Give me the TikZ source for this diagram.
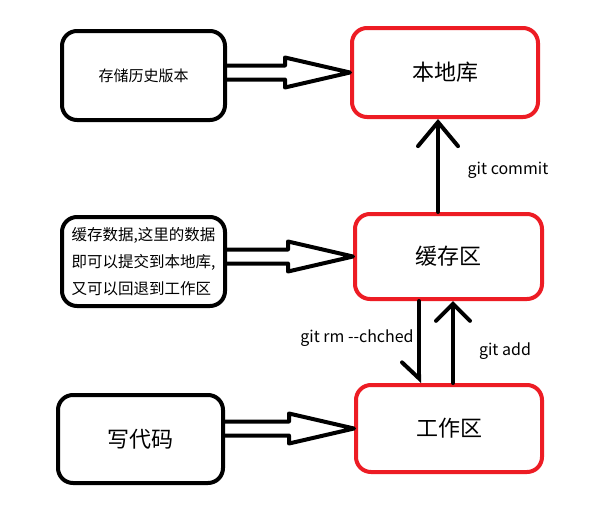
\documentclass[tikz,border=0pt]{standalone}
\usepackage{fontspec}
\newfontfamily\cjk{Noto Sans CJK SC}
\usetikzlibrary{calc, arrows.meta}

\definecolor{paintred}{HTML}{ED1C24}

\tikzset{
  notebox/.style={draw=black, line width=4pt, rounded corners=15pt, font=\cjk},
  areabox/.style={draw=paintred, line width=4pt, rounded corners=15pt,
    font=\cjk\fontsize{22}{26}\selectfont},
  hollow/.style={draw=black, line width=4pt, line join=round, line cap=round},
  gitarrow/.style={draw=black, line width=4pt, line cap=round},
  gitlabel/.style={font=\cjk\fontsize{16}{19}\selectfont}
}

\begin{document}
\begin{tikzpicture}[x=1pt, y=-1pt]
\useasboundingbox[fill=white] (0,0) rectangle (608,504);

% linke Spalte
\node[notebox, minimum width=163pt, minimum height=89pt,
  font=\cjk\fontsize{15}{18}\selectfont] (hist) at (143.5,75.5) {存储历史版本};
\node[notebox, minimum width=163pt, minimum height=89pt, align=left,
  font=\cjk\fontsize{15.5}{27}\selectfont] (cachenote) at (143.5,261.5)
  {缓存数据,这里的数据\\即可以提交到本地库,\\又可以回退到工作区};
\node[notebox, minimum width=165pt, minimum height=88pt,
  font=\cjk\fontsize{22}{26}\selectfont] (code) at (140.5,439) {写代码};

% rechte Spalte
\node[areabox, minimum width=186pt, minimum height=89pt] (local) at (445,72.5) {本地库};
\node[areabox, minimum width=187pt, minimum height=85pt] (cache) at (448.5,256.5) {缓存区};
\node[areabox, minimum width=186pt, minimum height=87pt] (work) at (449,428.5) {工作区};

% hohle Pfeile
\foreach \src/\dst in {hist/local, cachenote/cache, code/work} {
  \draw[hollow] ($(\src.east |- \dst.west)+(0,-7)$) -- ($(\dst.west)+(-65,-7)$)
    -- ++(0,-8) -- (\dst.west) -- ++(-65,15) -- ++(0,-8)
    -- ($(\src.east |- \dst.west)+(0,7)$);
}

% git Befehle
\coordinate (commitfoot) at (438,0);
\draw[gitarrow, -{Straight Barb[length=24pt, width=40pt, line cap=round]}]
  (cache.north -| commitfoot) -- (local.south -| commitfoot);
\node[gitlabel] (commitlabel) at (508,170) {git commit};

\coordinate (rmfoot) at (419,0);
\draw[gitarrow, -{Straight Barb[harpoon, swap, length=16pt, width=34pt, line cap=round]}]
  (cache.south -| rmfoot) -- (work.north -| rmfoot);
\node[gitlabel] (rmlabel) at (357,338) {git rm --chched};

\coordinate (addfoot) at (453,0);
\draw[gitarrow, -{Straight Barb[length=17pt, width=34pt, line cap=round]}]
  (work.north -| addfoot) -- (cache.south -| addfoot);
\node[gitlabel] (addlabel) at (505,351) {git add};

\end{tikzpicture}
\end{document}
